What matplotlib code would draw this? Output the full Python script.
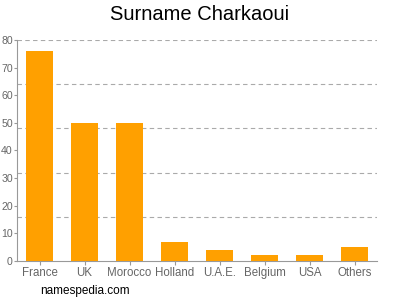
import matplotlib
matplotlib.use("Agg")
import matplotlib.pyplot as plt

countries = ["France", "UK", "Morocco", "Holland", "U.A.E.", "Belgium", "USA", "Others"]
counts = [76, 50, 50, 7, 4, 2, 2, 5]
y_ticks = [0, 10, 20, 30, 40, 50, 60, 70, 80]
grid_levels = [16, 32, 48, 64, 80]

plt.rcParams["font.family"] = ["Liberation Sans", "DejaVu Sans"]

fig = plt.figure(figsize=(4, 3), dpi=100)
ax = fig.add_axes([0.0425, 0.13, 0.9, 0.7367])

x = range(len(countries))
ax.bar(x, counts, width=0.62, color="#ffa000", edgecolor="none", zorder=3)

for g in grid_levels:
    ax.axhline(g, color="#aaaaaa", linewidth=0.8, linestyle=(0, (4, 3)), zorder=1)

ax.set_xlim(-0.5, len(countries) - 0.5)
ax.set_ylim(0, 80)
ax.set_yticks(y_ticks)
ax.set_xticks(list(x))
ax.set_xticklabels(countries)

ax.spines[["top", "right"]].set_visible(False)
for s in ("left", "bottom"):
    ax.spines[s].set_color("#999999")
    ax.spines[s].set_linewidth(0.8)
ax.tick_params(axis="x", colors="#999999", labelcolor="#666666",
               labelsize=8.3, length=3, width=0.8, pad=1.5)
ax.tick_params(axis="y", colors="#999999", labelcolor="#666666",
               labelsize=7.6, length=2, width=0.8, pad=1)

fig.text(0.5, 0.952, "Surname Charkaoui", ha="center", va="center",
         fontsize=14.5, color="#000000")
fig.text(0.1, 0.03, "namespedia.com", ha="left", va="center",
         fontsize=8.5, color="#000000")

fig.savefig("out.png", dpi=100)
